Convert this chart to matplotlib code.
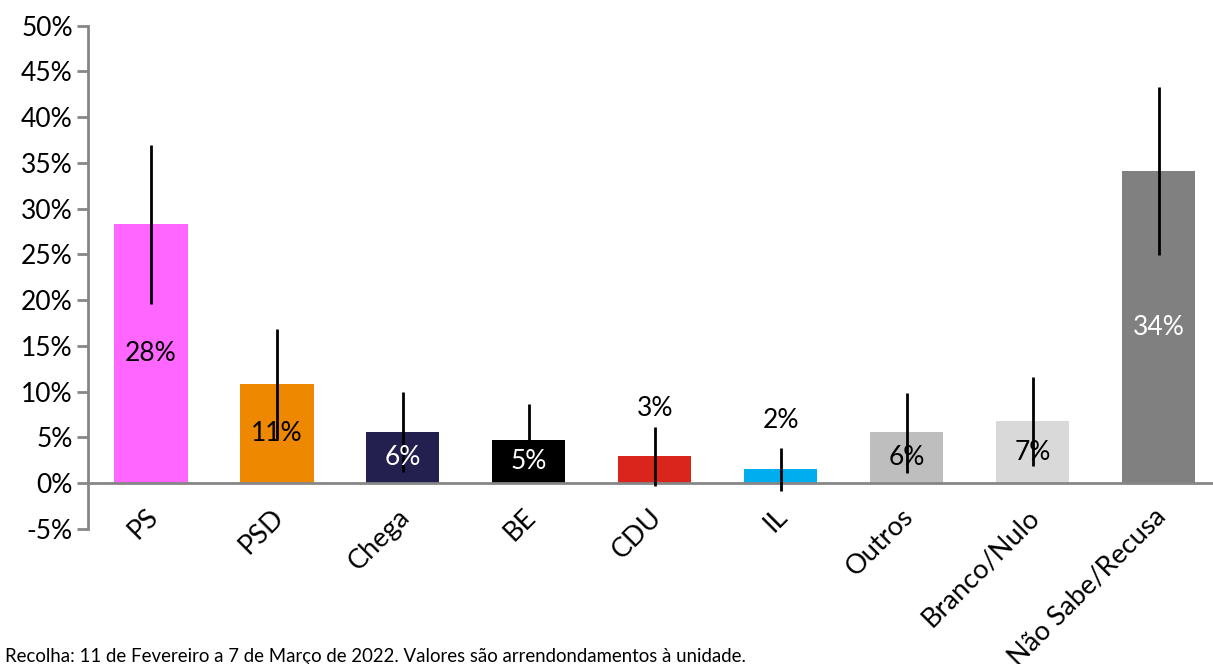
import matplotlib
matplotlib.use("Agg")
import matplotlib.pyplot as plt
import numpy as np
from matplotlib.transforms import ScaledTranslation

plt.rcParams['font.family'] = ['Lato', 'DejaVu Sans']

parties = ['PS', 'PSD', 'Chega', 'BE', 'CDU', 'IL', 'Outros', 'Branco/Nulo', 'Não Sabe/Recusa']
values = [28.3, 10.8, 5.6, 4.7, 2.95, 1.5, 5.6, 6.8, 34.1]
err_low = [19.6, 4.8, 1.2, 0.8, -0.3, -0.8, 1.1, 1.9, 24.9]
err_high = [37.0, 16.8, 10.0, 8.6, 6.1, 3.9, 9.9, 11.6, 43.3]
labels = ['28%', '11%', '6%', '5%', '3%', '2%', '6%', '7%', '34%']
colors = ['#FF66FF', '#EE8800', '#231F4F', '#000000', '#DA251D', '#00ADEF', '#BEBEBE', '#D9D9D9', '#808080']
label_colors = ['black', 'black', 'white', 'white', 'black', 'black', 'black', 'black', 'white']
label_y = [14.15, 5.4, 2.8, 2.35, 8.2, 6.9, 2.8, 3.4, 17.05]
yticks = [-5, 0, 5, 10, 15, 20, 25, 30, 35, 40, 45, 50]

fig = plt.figure(figsize=(12.13, 6.64), dpi=100)
ax = fig.add_axes([88/1213, 1 - 529/664, 1 - 88/1213, (529 - 25.5)/664])

x = np.arange(len(parties))
ax.bar(x, values, 0.58, color=colors, zorder=2)
vals = np.array(values)
yerr = [vals - np.array(err_low), np.array(err_high) - vals]
ax.errorbar(x, values, yerr=yerr, fmt='none', ecolor='black', elinewidth=2, capsize=0, zorder=3)

for i in range(len(parties)):
    ax.text(x[i], label_y[i], labels[i], ha='center', va='center', fontsize=19,
            color=label_colors[i], zorder=4)

ax.set_xlim(-0.5, 8.43)
ax.set_ylim(-5, 50)
ax.set_yticks(yticks)
ax.set_yticklabels([f'{t}%' for t in yticks], fontsize=19)

ax.spines['top'].set_visible(False)
ax.spines['right'].set_visible(False)
ax.spines['bottom'].set_position(('data', 0))
for s in ['left', 'bottom']:
    ax.spines[s].set_color('#868686')
    ax.spines[s].set_linewidth(2)
ax.tick_params(axis='y', length=8, width=2, color='#868686', pad=3)
ax.tick_params(axis='x', length=0, pad=15)

ax.set_xticks(x)
ax.set_xticklabels(parties, fontsize=19.5, rotation=45, ha='right', va='top', rotation_mode='anchor')
offset = ScaledTranslation(-6/100, 0, fig.dpi_scale_trans)
for lab in ax.get_xticklabels():
    lab.set_transform(lab.get_transform() + offset)

fig.text(5/1213, 2/664, 'Recolha: 11 de Fevereiro a 7 de Março de 2022. Valores são arrendondamentos à unidade.',
         fontsize=13.4, ha='left', va='baseline')

fig.savefig('out.png', dpi=100)
